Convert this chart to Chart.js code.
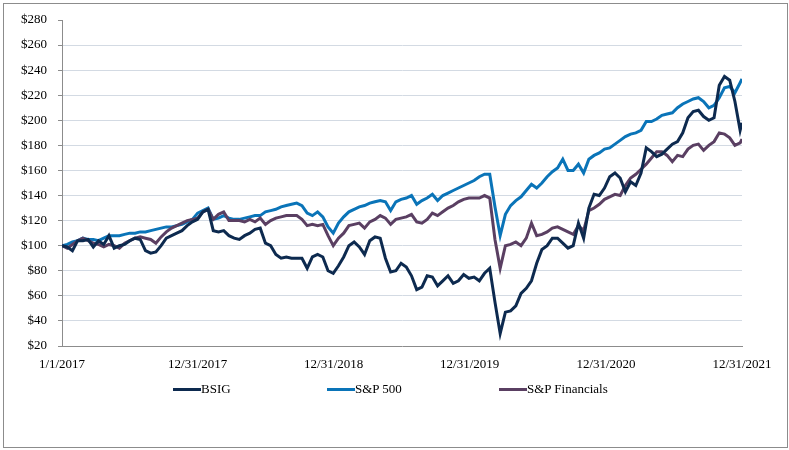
<!DOCTYPE html>
<html>
<head>
<meta charset="utf-8">
<script src="https://cdn.jsdelivr.net/npm/chart.js@4.4.1/dist/chart.umd.min.js"></script>
<style>
    body { margin: 0; background: #fff; }
    #frame { position: absolute; left: 3px; top: 3px; width: 783px; height: 443px; border: 1px solid #8c8c8c; }
    #wrap { position: absolute; left: 0; top: 0; width: 789px; height: 450px; }
    .leg { position: absolute; top: 381px; font: 13px "Liberation Serif", "Times New Roman", serif; color: #000; white-space: nowrap; }
    .leg i { display: inline-block; width: 28px; height: 3px; vertical-align: middle; margin-right: 0; position: relative; top: -1px; }
</style>
</head>
<body>
<div id="frame"></div>
<div id="wrap"><canvas id="perfChart"></canvas></div>
<div class="leg" style="left:173px"><i style="background:#0d2a4f"></i>BSIG</div>
<div class="leg" style="left:327px"><i style="background:#0a74b8"></i>S&amp;P 500</div>
<div class="leg" style="left:499px"><i style="background:#5a3f62"></i>S&amp;P Financials</div>
<script>
// sampled every 14 days from 1/1/2017, last point at 12/31/2021
const days = [];
for (let i = 0; i <= 130; i++) days.push(i * 14);
days.push(1825);

const tickDays = [0, 364, 729, 1094, 1460, 1825];
const tickLabels = ["1/1/2017", "12/31/2017", "12/31/2018", "12/31/2019", "12/31/2020", "12/31/2021"];

const bsig = [
    100, 99, 96, 104, 104, 105, 99, 104, 101, 108,
    98, 100, 101, 104, 106, 105, 96, 94, 95, 100,
    106, 108, 110, 112, 116, 119, 121, 127, 129, 112,
    111, 112, 108, 106, 105, 108, 110, 113, 114, 102,
    100, 93, 90, 91, 90, 90, 90, 82, 91, 93,
    91, 80, 78, 84, 91, 100, 103, 99, 93, 104,
    107, 106, 90, 79, 80, 86, 83, 76, 65, 67,
    76, 75, 68, 72, 76, 70, 72, 77, 74, 75,
    72, 78, 82, 55, 30, 47, 48, 52, 62, 66,
    72, 86, 97, 100, 106, 106, 102, 98, 100, 118,
    106, 130, 141, 140, 146, 155, 158, 154, 143, 151,
    148, 158, 178, 175, 171, 173, 177, 181, 183, 190,
    202, 207, 208, 203, 200, 202, 228, 235, 232, 215,
    192, 198
];

const sp500 = [
    100, 101, 103, 104, 106, 105, 105, 104, 106, 108,
    108, 108, 109, 110, 110, 111, 111, 112, 113, 114,
    115, 115, 116, 117, 119, 121, 126, 128, 130, 121,
    122, 124, 122, 121, 121, 122, 123, 124, 124, 127,
    128, 129, 131, 132, 133, 134, 132, 126, 124, 127,
    123, 115, 110, 118, 123, 127, 129, 131, 132, 134,
    135, 136, 135, 128, 135, 137, 138, 140, 133, 136,
    138, 141, 136, 140, 142, 144, 146, 148, 150, 152,
    155, 157, 157, 131, 108, 125, 132, 136, 139, 144,
    149, 146, 150, 155, 159, 162, 169, 160, 160, 165,
    158, 169, 172, 174, 177, 178, 181, 184, 187, 189,
    190, 192, 199, 199, 201, 204, 205, 206, 210, 213,
    215, 217, 218, 215, 210, 212, 218, 226, 227, 222,
    230, 233
];

const spFin = [
    100, 98, 101, 104, 106, 104, 102, 101, 99, 101,
    100, 98, 102, 104, 106, 107, 106, 105, 102, 107,
    111, 114, 116, 118, 120, 121, 122, 127, 129, 121,
    125, 127, 120, 120, 120, 119, 121, 119, 122, 117,
    120, 122, 123, 124, 124, 124, 121, 116, 117, 116,
    117, 108, 100, 106, 110, 116, 117, 118, 114, 119,
    121, 124, 122, 117, 121, 122, 123, 125, 119, 118,
    121, 126, 124, 127, 130, 132, 135, 137, 138, 138,
    138, 140, 138, 105, 82, 100, 101, 103, 100, 106,
    118, 108, 109, 111, 114, 115, 113, 111, 109, 116,
    112, 128, 130, 133, 137, 139, 141, 140, 148, 154,
    157, 161, 165, 170, 175, 175, 172, 167, 172, 171,
    177, 180, 181, 176, 180, 183, 190, 189, 186, 180,
    182, 185
];

function toPoints(values) {
    return values.map((v, i) => ({ x: days[i], y: v }));
}

const serif = { family: "'Liberation Serif', 'Times New Roman', serif", size: 13 };

new Chart(document.getElementById("perfChart"), {
    type: "line",
    data: {
        datasets: [
            { label: "BSIG", data: toPoints(bsig), borderColor: "#0d2a4f", borderWidth: 3, pointRadius: 0, order: 1 },
            { label: "S&P 500", data: toPoints(sp500), borderColor: "#0a74b8", borderWidth: 3, pointRadius: 0, order: 3 },
            { label: "S&P Financials", data: toPoints(spFin), borderColor: "#5a3f62", borderWidth: 3, pointRadius: 0, order: 2 },
        ],
    },
    options: {
        responsive: true,
        maintainAspectRatio: false,
        animation: false,
        layout: { padding: { left: 0, right: 47, top: 20, bottom: 0 } },
        plugins: {
            legend: { display: false },
            tooltip: { enabled: false },
        },
        scales: {
            x: {
                type: "linear",
                min: 0,
                max: 1825,
                afterBuildTicks: (scale) => { scale.ticks = tickDays.map((v) => ({ value: v })); },
                afterFit: (scale) => { scale.height = 104; },
                grid: { display: false, drawTicks: false },
                border: { display: true, color: "#8c8c8c", width: 1 },
                ticks: {
                    autoSkip: false,
                    maxRotation: 0,
                    padding: 11,
                    color: "#000",
                    font: serif,
                    callback: (v, idx) => tickLabels[idx],
                },
            },
            y: {
                min: 20,
                max: 280,
                afterFit: (scale) => { scale.width = 62; },
                grid: {
                    color: (ctx) => (ctx.tick && (ctx.tick.value === 280 || ctx.tick.value === 20) ? "rgba(0,0,0,0)" : "#d3dae3"),
                    tickColor: "#8c8c8c",
                    tickLength: 4,
                },
                border: { display: true, color: "#8c8c8c", width: 1 },
                ticks: {
                    stepSize: 20,
                    padding: 11,
                    color: "#000",
                    font: serif,
                    callback: (v) => "$" + v,
                },
            },
        },
    },
});
</script>
</body>
</html>
